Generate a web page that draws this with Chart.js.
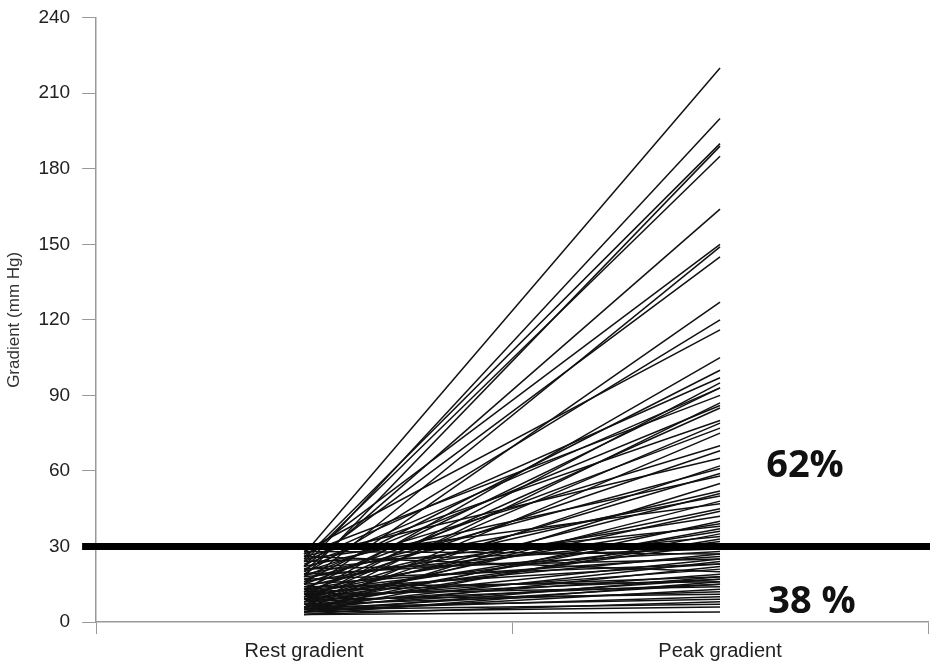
<!DOCTYPE html>
<html>
<head>
<meta charset="utf-8">
<script src="https://cdn.jsdelivr.net/npm/chart.js@4/dist/chart.umd.min.js"></script>
<style>
  html, body { margin: 0; padding: 0; background: #fff; }
  #wrap { width: 930px; height: 663px; }
</style>
</head>
<body>
<div id="wrap"><canvas id="gradientChart"></canvas></div>
<script>
// categories on the x axis
const categories = ['Rest gradient', 'Peak gradient'];

// one entry per patient: gradient at rest and at peak exercise (mm Hg)
const restGradient = [
    27, 22, 25, 18, 24, 20, 26, 15, 22, 12,
    19, 28, 10, 16, 24, 8, 21, 13, 27, 6,
    18, 11, 23, 9, 15, 5, 20, 12, 26, 7,
    17, 10, 22, 4, 14, 9, 19, 6, 25, 11,
    8, 16, 5, 13, 21, 7, 10, 4, 18, 6,
    12, 9,
    24, 19, 28, 11, 15, 8, 21, 6, 13, 17,
    5, 9, 26, 7, 12, 4, 10, 6, 14, 3,
    8, 5, 11, 4, 7, 9, 5, 6, 3, 5,
    4, 3
];
const peakGradient = [
    220, 200, 190, 189, 185, 164, 150, 149, 145, 127,
    120, 116, 105, 100, 97, 95, 93, 93, 90, 87,
    86, 85, 80, 79, 77, 75, 70, 68, 65, 62,
    61, 59, 58, 55, 52, 51, 50, 48, 47, 45,
    44, 42, 40, 39, 38, 37, 36, 35, 34, 33,
    32, 31,
    29, 28, 27, 27, 26, 25, 25, 24, 23, 23,
    22, 21, 20, 19, 18, 18, 17, 17, 16, 16,
    15, 15, 14, 13, 12, 11, 10, 9, 8, 7,
    6, 4
];

// y axis ticks
const yTickStep = 30;
const yMax = 240;

// threshold line and the share of patients on each side
const threshold = 30;
const aboveLabel = '62%';
const belowLabel = '38 %';

// Plugin: thick threshold line plus the percentage labels
const thresholdPlugin = {
    id: 'threshold',
    afterDatasetsDraw(chart) {
        const ctx = chart.ctx;
        const y = chart.scales.y;
        const area = chart.chartArea;
        const yPix = y.getPixelForValue(threshold);
        ctx.save();
        ctx.strokeStyle = '#000';
        ctx.lineWidth = 7;
        ctx.beginPath();
        ctx.moveTo(area.left - 14, yPix);
        ctx.lineTo(chart.width, yPix);
        ctx.stroke();

        ctx.fillStyle = '#111';
        ctx.font = "bold 38px 'Open Sans'";
        ctx.textAlign = 'center';
        ctx.textBaseline = 'middle';
        ctx.fillText(aboveLabel, area.right - 123, y.getPixelForValue(62));
        ctx.fillText(belowLabel, area.right - 116, y.getPixelForValue(8));
        ctx.restore();
    }
};

function renderGradientChart() {
    const datasets = restGradient.map((rest, i) => ({
        data: [rest, peakGradient[i]],
        borderColor: '#111',
        borderWidth: 1.5,
        pointRadius: 0,
        fill: false,
        tension: 0
    }));

    const ctx = document.getElementById('gradientChart').getContext('2d');
    new Chart(ctx, {
        type: 'line',
        data: {
            labels: categories,
            datasets: datasets
        },
        options: {
            responsive: true,
            maintainAspectRatio: false,
            animation: false,
            layout: {
                padding: { top: 0, right: 2, left: 4, bottom: -5 }
            },
            plugins: {
                legend: { display: false },
                tooltip: { enabled: false }
            },
            scales: {
                x: {
                    offset: true,
                    grid: {
                        offset: true,
                        drawOnChartArea: false,
                        drawTicks: true,
                        tickLength: 12,
                        color: '#999'
                    },
                    border: { color: '#999', width: 1.5 },
                    ticks: {
                        color: '#222',
                        font: { family: "'Liberation Sans', Arial", size: 20 },
                        padding: 5
                    }
                },
                y: {
                    min: 0,
                    max: yMax,
                    grid: {
                        drawOnChartArea: false,
                        drawTicks: true,
                        tickLength: 14,
                        color: '#999'
                    },
                    border: { color: '#999', width: 1.5 },
                    ticks: {
                        stepSize: yTickStep,
                        color: '#222',
                        font: { family: "'Liberation Sans', Arial", size: 19, lineHeight: 0.6 },
                        padding: 12
                    },
                    title: {
                        display: true,
                        text: 'Gradient (mm Hg)',
                        color: '#333',
                        font: { family: "'Liberation Sans', Arial", size: 17 },
                        padding: { top: 0, bottom: 2 }
                    }
                }
            }
        },
        plugins: [thresholdPlugin]
    });
}

document.addEventListener('DOMContentLoaded', renderGradientChart);
</script>
</body>
</html>
